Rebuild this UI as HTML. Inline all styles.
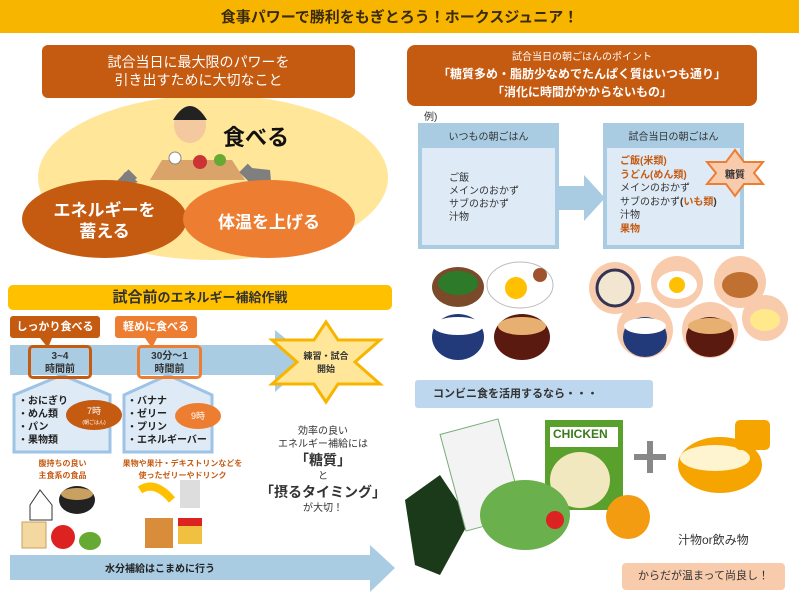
<!DOCTYPE html>
<html><head><meta charset="utf-8"><style>
body{margin:0;width:799px;height:599px;position:relative;overflow:hidden;background:#fff;font-family:"Liberation Sans","Noto Sans CJK JP",sans-serif;}
div{position:absolute;box-sizing:border-box;}
.c{text-align:center;}
.b{font-weight:bold;}
</style></head><body>
<div style="left:0;top:0;width:799px;height:33px;background:#F7B500;"></div>
<div class="c b" style="left:0;top:6px;width:799px;font-size:15px;color:#3a2a10;">食事パワーで勝利をもぎとろう！ホークスジュニア！</div>

<!-- left top -->
<div style="left:38px;top:95px;width:350px;height:165px;border-radius:50%;background:#FFE699;"></div>
<svg style="position:absolute;left:0;top:0" width="799" height="599">
 <ellipse cx="190" cy="125" rx="16" ry="18" fill="#f4c9a0"/><path d="M173 120 Q190 92 207 120 Z" fill="#222"/>
 <polygon points="150,180 162,160 232,160 245,180" fill="#d9a36a"/>
 <circle cx="175" cy="158" r="6" fill="#fff" stroke="#888"/><circle cx="200" cy="162" r="7" fill="#c33"/><circle cx="220" cy="160" r="6" fill="#6a3"/>
 <polygon points="112,190 125,172 138,182" fill="#7f7f7f"/><rect x="120" y="170" width="12" height="20" fill="#7f7f7f" transform="rotate(45 125 180)"/>
 <polygon points="252,168 270,170 272,192" fill="#7f7f7f"/><rect x="245" y="164" width="12" height="22" fill="#7f7f7f" transform="rotate(-45 252 175)"/>
 <!-- blue arrow -->
 <rect x="10" y="345" width="265" height="30" fill="#A9CCE3"/>
 <polygon points="275,330 312,360 275,392" fill="#A9CCE3"/>
 <polygon points="10,555 370,555 370,545 395,568 370,592 370,580 10,580" fill="#A9CCE3"/>
 <polygon points="326,322 338,340 380,340 355,362 380,384 338,384 326,402 314,384 272,384 297,362 272,340 314,340" fill="#FFE699" stroke="#F7B500" stroke-width="3"/>
 <polygon points="14,395 62,375 110,395 110,452 14,452" fill="#DEEBF7" stroke="#9DC3E6" stroke-width="3"/>
 <polygon points="124,395 168,375 212,395 212,452 124,452" fill="#DEEBF7" stroke="#9DC3E6" stroke-width="3"/>
 <polygon points="40,338 52,338 48,348" fill="#C55A11"/>
 <polygon points="145,338 157,338 152,348" fill="#ED7D31"/>
 <!-- right arrow -->
 <rect x="558" y="186" width="28" height="24" fill="#A9CCE3"/><polygon points="584,175 605,198 584,221" fill="#A9CCE3"/>
 <!-- foods right -->
 <ellipse cx="458" cy="287" rx="26" ry="20" fill="#7a4a2a"/><ellipse cx="458" cy="283" rx="20" ry="12" fill="#2d7a2a"/>
 <ellipse cx="520" cy="285" rx="33" ry="23" fill="#fff" stroke="#bbb"/><circle cx="516" cy="288" r="11" fill="#FFC000"/><circle cx="540" cy="275" r="7" fill="#a0522d"/>
 <ellipse cx="458" cy="337" rx="26" ry="23" fill="#223a7a"/><ellipse cx="458" cy="326" rx="25" ry="9" fill="#fff"/>
 <ellipse cx="522" cy="337" rx="28" ry="23" fill="#5a1a10"/><ellipse cx="522" cy="326" rx="24" ry="9" fill="#e8b070"/>
 <circle cx="615" cy="288" r="26" fill="#F8CBAD"/><circle cx="615" cy="288" r="18" fill="#f2e6d0" stroke="#335" stroke-width="3"/>
 <circle cx="677" cy="282" r="26" fill="#F8CBAD"/><ellipse cx="677" cy="285" rx="20" ry="14" fill="#fff"/><circle cx="677" cy="285" r="8" fill="#FFC000"/>
 <circle cx="740" cy="282" r="26" fill="#F8CBAD"/><ellipse cx="740" cy="285" rx="18" ry="13" fill="#C07030"/>
 <circle cx="645" cy="330" r="28" fill="#F8CBAD"/><ellipse cx="645" cy="337" rx="22" ry="20" fill="#223a7a"/><ellipse cx="645" cy="326" rx="21" ry="8" fill="#fff"/>
 <circle cx="710" cy="330" r="28" fill="#F8CBAD"/><ellipse cx="710" cy="337" rx="24" ry="20" fill="#5a1a10"/><ellipse cx="710" cy="326" rx="22" ry="8" fill="#e8b070"/>
 <circle cx="765" cy="318" r="23" fill="#F8CBAD"/><ellipse cx="765" cy="320" rx="15" ry="11" fill="#ffe98a"/>
 <!-- convenience -->
 <polygon points="405,500 440,475 470,520 440,575 415,565" fill="#1a3a1a"/>
 <rect x="452" y="425" width="60" height="100" fill="#f3f3f3" stroke="#7a7" transform="rotate(-15 482 475)"/>
 <rect x="545" y="420" width="78" height="90" fill="#5aa02c"/><rect x="550" y="427" width="68" height="20" fill="#fff"/>
 <ellipse cx="580" cy="480" rx="30" ry="28" fill="#f2e8c0"/>
 <ellipse cx="525" cy="515" rx="45" ry="35" fill="#6ab04c"/><circle cx="555" cy="520" r="9" fill="#d22"/>
 <circle cx="628" cy="517" r="22" fill="#f39c12"/>
 <rect x="634" y="454" width="32" height="6" fill="#888"/><rect x="647" y="441" width="6" height="32" fill="#888"/>
 <ellipse cx="720" cy="465" rx="42" ry="28" fill="#F6A500"/><ellipse cx="715" cy="458" rx="35" ry="13" fill="#fff4d0"/>
 <rect x="735" y="420" width="35" height="30" rx="5" fill="#F6A500"/>
 <!-- left foods -->
 <polygon points="30,505 40,490 52,505 52,520 30,520" fill="#fff" stroke="#333"/>
 <ellipse cx="77" cy="500" rx="18" ry="14" fill="#222"/><ellipse cx="77" cy="494" rx="16" ry="6" fill="#c9a060"/>
 <rect x="22" y="522" width="24" height="26" fill="#f3d9a0" stroke="#c8a060"/>
 <circle cx="63" cy="537" r="12" fill="#d22"/><ellipse cx="90" cy="541" rx="11" ry="9" fill="#6a3" />
 <path d="M140 490 Q155 480 172 500" stroke="#FFC000" stroke-width="8" fill="none"/>
 <rect x="180" y="480" width="20" height="28" fill="#ddd"/>
 <rect x="145" y="518" width="28" height="30" fill="#d98c3a"/>
 <rect x="178" y="522" width="24" height="22" fill="#f0c040"/><rect x="178" y="518" width="24" height="8" fill="#d22"/>
</svg>
<div class="c" style="left:42px;top:45px;width:313px;height:53px;background:#C55A11;border-radius:6px;color:#fff;font-size:14px;line-height:18px;padding-top:8px;">試合当日に最大限のパワーを<br>引き出すために大切なこと</div>
<div class="b" style="left:223px;top:120px;font-size:22px;color:#111;">食べる</div>
<div style="left:22px;top:180px;width:165px;height:78px;border-radius:50%;background:#C55A11;"></div>
<div style="left:183px;top:180px;width:172px;height:78px;border-radius:50%;background:#ED7D31;"></div>
<div class="c b" style="left:22px;top:200px;width:165px;font-size:17px;line-height:21px;color:#fff;">エネルギーを<br>蓄える</div>
<div class="c b" style="left:183px;top:208px;width:172px;font-size:17px;color:#fff;">体温を上げる</div>

<div class="c b" style="left:8px;top:285px;width:384px;height:25px;background:#FFC000;border-radius:5px;font-size:13px;line-height:25px;color:#333;"><span style="font-size:15px">試合前</span>のエネルギー補給作戦</div>
<div class="c b" style="left:10px;top:316px;width:90px;height:22px;background:#C55A11;color:#fff;font-size:11px;line-height:22px;border-radius:3px;">しっかり食べる</div>
<div class="c b" style="left:115px;top:316px;width:82px;height:22px;background:#ED7D31;color:#fff;font-size:11px;line-height:22px;border-radius:3px;">軽めに食べる</div>
<div class="c b" style="left:28px;top:345px;width:64px;height:34px;border:3px solid #C55A11;border-radius:5px;font-size:10px;line-height:13px;color:#333;padding-top:2px;">3~4<br>時間前</div>
<div class="c b" style="left:137px;top:345px;width:65px;height:34px;border:3px solid #ED7D31;border-radius:5px;font-size:10px;line-height:13px;color:#333;padding-top:2px;">30分～1<br>時間前</div>
<div class="c b" style="left:272px;top:350px;width:108px;font-size:9px;line-height:13px;color:#333;">練習・試合<br>開始</div>
<div class="b" style="left:18px;top:395px;font-size:10px;line-height:13px;color:#222;">・おにぎり<br>・めん類<br>・パン<br>・果物類</div>
<div class="b" style="left:127px;top:395px;font-size:10px;line-height:13px;color:#222;">・バナナ<br>・ゼリー<br>・プリン<br>・エネルギーバー</div>
<div class="c" style="left:66px;top:400px;width:56px;height:30px;border-radius:50%;background:#C55A11;color:#fff;font-size:9px;line-height:10px;padding-top:6px;">7時<br><span style="font-size:5px">(朝ごはん)</span></div>
<div class="c" style="left:175px;top:403px;width:46px;height:26px;border-radius:50%;background:#ED7D31;color:#fff;font-size:9px;line-height:26px;">9時</div>
<div class="c b" style="left:15px;top:458px;width:95px;font-size:8px;line-height:12px;color:#C55A11;">腹持ちの良い<br>主食系の食品</div>
<div class="c b" style="left:110px;top:458px;width:145px;font-size:8px;line-height:12px;color:#C55A11;">果物や果汁・デキストリンなどを<br>使ったゼリーやドリンク</div>
<div class="c" style="left:258px;top:425px;width:130px;font-size:10px;line-height:13px;color:#333;">効率の良い<br>エネルギー補給には<br><b style="font-size:14px;line-height:19px">「糖質」</b><br>と<br><b style="font-size:14px;line-height:19px">「摂るタイミング」</b><br>が大切！</div>
<div class="c b" style="left:10px;top:560px;width:300px;font-size:10px;color:#222;">水分補給はこまめに行う</div>

<!-- right -->
<div class="c" style="left:407px;top:45px;width:350px;height:61px;background:#C55A11;border-radius:8px;color:#fff;font-size:10px;line-height:16px;padding-top:5px;">試合当日の朝ごはんのポイント<br><b style="font-size:12px">「糖質多め・脂肪少なめでたんぱく質はいつも通り」<br>「消化に時間がかからないもの」</b></div>
<div style="left:424px;top:108px;font-size:10px;color:#333;">例)</div>
<div style="left:418px;top:123px;width:141px;height:126px;background:#A9CCE3;"></div>
<div style="left:422px;top:148px;width:133px;height:97px;background:#DEEBF7;"></div>
<div class="c" style="left:418px;top:128px;width:141px;font-size:10px;color:#333;">いつもの朝ごはん</div>
<div style="left:449px;top:172px;font-size:10px;line-height:13px;color:#333;">ご飯<br>メインのおかず<br>サブのおかず<br>汁物</div>
<div style="left:603px;top:123px;width:141px;height:126px;background:#A9CCE3;"></div>
<div style="left:607px;top:148px;width:133px;height:97px;background:#DEEBF7;"></div>
<div class="c" style="left:603px;top:128px;width:141px;font-size:10px;color:#333;">試合当日の朝ごはん</div>
<div style="left:620px;top:155px;font-size:10px;line-height:13.5px;color:#333;"><b style="color:#C55A11">ご飯(米類)<br>うどん(めん類)</b><br>メインのおかず<br>サブのおかず<b>(<span style="color:#C55A11">いも類</span>)</b><br>汁物<br><b style="color:#C55A11">果物</b></div>
<svg style="position:absolute;left:0;top:0" width="799" height="599">
 <polygon points="735,150 744,162 763,162 754,173 763,184 744,184 735,196 726,184 707,184 716,173 707,162 726,162" fill="#F8CBAD" stroke="#ED7D31" stroke-width="2"/>
</svg>
<div class="c b" style="left:707px;top:166px;width:56px;font-size:10px;color:#333;">糖質</div>
<div class="b" style="left:415px;top:380px;width:238px;height:28px;background:#BDD7EE;border-radius:3px;font-size:11px;line-height:28px;padding-left:18px;color:#333;">コンビニ食を活用するなら・・・</div>
<div class="b" style="left:553px;top:427px;font-size:12px;color:#3a7a1a;">CHICKEN</div>
<div style="left:678px;top:531px;font-size:12px;color:#333;">汁物or飲み物</div>
<div class="c" style="left:622px;top:563px;width:163px;height:27px;background:#F8CBAD;border-radius:4px;font-size:11px;line-height:27px;color:#333;">からだが温まって尚良し！</div>
</body></html>
